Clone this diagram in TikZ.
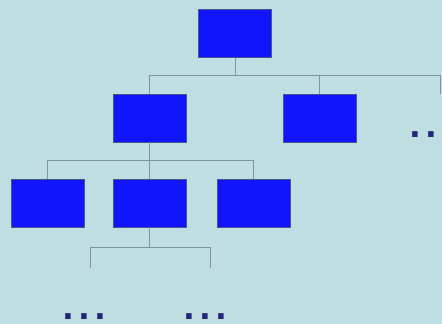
\documentclass[tikz,border=0pt]{standalone}
\usepackage{fontspec}
\newfontfamily\dotfont{DejaVu Sans}
\usepackage{tikz}
\usetikzlibrary{positioning,calc,backgrounds}
\definecolor{bgteal}{RGB}{190,222,225}
\definecolor{boxblue}{RGB}{16,20,250}
\definecolor{boxedge}{RGB}{70,85,140}
\definecolor{linkgray}{RGB}{125,150,156}
\definecolor{dotnavy}{RGB}{35,38,120}

\begin{document}
\begin{tikzpicture}[x=1pt,y=-1pt,
  orgbox/.style={draw=boxedge,line width=0.6pt,fill=boxblue,
    minimum width=73pt,minimum height=48pt,inner sep=0pt},
  link/.style={draw=linkgray,line width=0.9pt},
  moredots/.style={text=dotnavy,inner sep=0pt,anchor=base,
    text height=6pt,text depth=0pt,
    font=\dotfont\bfseries\fontsize{31}{31}\selectfont}]
% Background
\fill[bgteal] (0,0) rectangle (442,324);
\useasboundingbox (0,0) rectangle (442,324);

% Level 0
\node[orgbox] (root) at (235,33.5) {};
% Level 1
\node[orgbox] (n1) at (149.5,118) {};
\node[orgbox] (n2) at (319.5,118) {};
% Level 2
\node[orgbox] (m1) at (47.5,203) {};
\node[orgbox] (m2) at (149.5,203) {};
\node[orgbox] (m3) at (253.5,203) {};

% Bus levels and loose ends
\coordinate (rbus) at (0,75.5);
\coordinate (mbus) at (0,160.5);
\coordinate (lbus) at (0,247);
\coordinate (rmore) at (440,94);
\coordinate (l1) at (90,268);
\coordinate (l2) at (210,268);

% Connectors root -> level 1
\draw[link] (root.south) -- (root.south |- rbus);
\draw[link] (n1.north) -- (n1.north |- rbus) -| (rmore);
\draw[link] (n2.north) -- (n2.north |- rbus);
% Connectors n1 -> level 2
\draw[link] (n1.south) -- (n1.south |- mbus);
\draw[link] (m1.north) -- (m1.north |- mbus) -| (m3.north);
\draw[link] (m2.north) -- (m2.north |- mbus);
% Connectors m2 -> leaves
\draw[link] (m2.south) -- (m2.south |- lbus);
\draw[link] (l1) -- (l1 |- lbus) -- (l2 |- lbus) -- (l2);

% Continuation dots
\node[moredots] (dr) at (423.5,137.5) {.\kern4.3pt.};
\node[moredots] (dl) at (84.5,319.5) {.\kern4.3pt.\kern4.3pt.};
\node[moredots] (dm) at (205,319.5) {.\kern4.3pt.\kern4.3pt.};
\end{tikzpicture}
\end{document}
